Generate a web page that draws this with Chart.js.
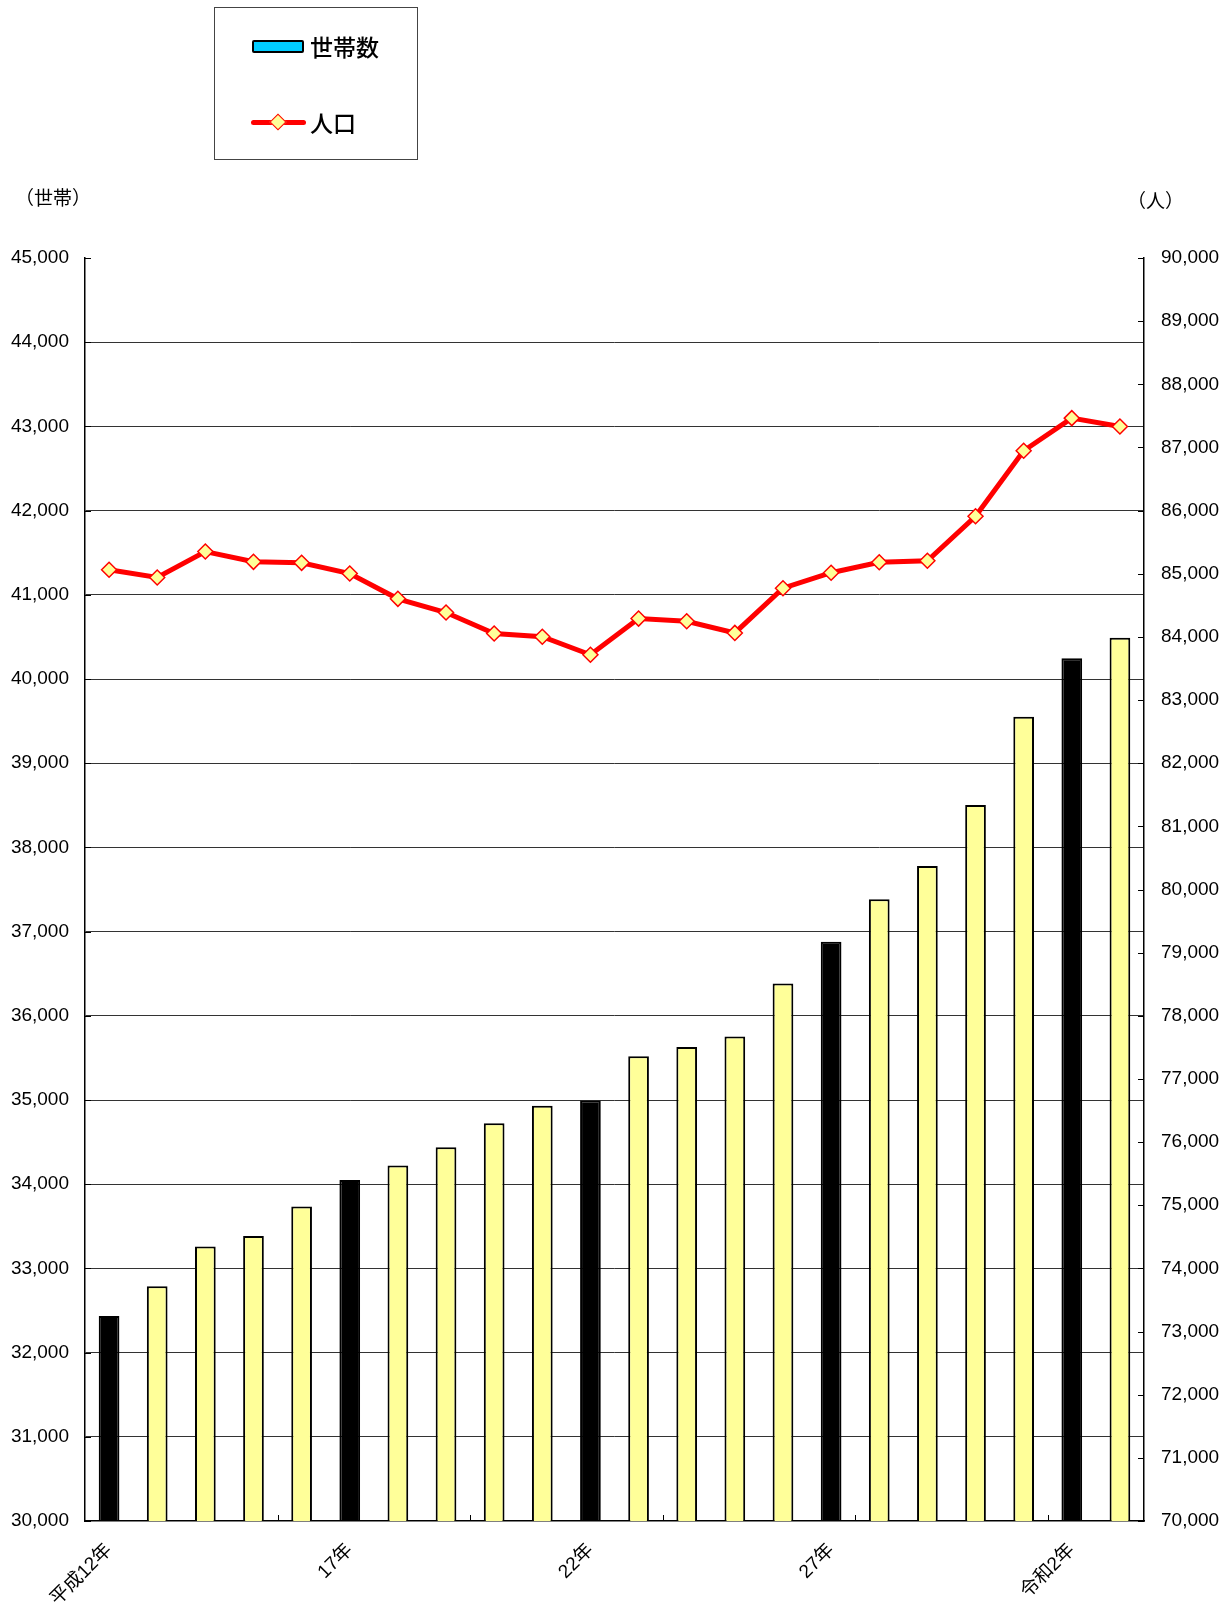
<!DOCTYPE html>
<html lang="ja">
<head>
<meta charset="utf-8">
<title>世帯数と人口の推移</title>
<script src="https://cdn.jsdelivr.net/npm/chart.js@4.4.1/dist/chart.umd.min.js"></script>
<style>
    body { margin: 0; background: #fff; }
    #wrap { position: relative; width: 1231px; height: 1604px; }
    #chart { position: absolute; left: 0; top: 0; }
    .jp { font-family: "Noto Sans CJK JP", "Noto Sans", sans-serif; color: #000; line-height: 1; position: absolute; white-space: nowrap; }
    .unit { font-size: 19px; }
    .legend { position: absolute; left: 214px; top: 7px; width: 204px; height: 153px; border: 1px solid #444; box-sizing: border-box; }
    .legend .txt { font-size: 23px; font-weight: 500; }
    .swatch-bar { position: absolute; left: 37px; top: 32px; width: 52px; height: 13px; background: #00CCFF; border: 2px solid #000; box-sizing: border-box; border-radius: 2px; }
    .swatch-line { position: absolute; left: 36px; top: 112px; width: 55px; height: 5px; background: #FF0000; border-radius: 3px; }
    .swatch-dot { position: absolute; left: 57px; top: 108px; width: 10px; height: 10px; background: #FFFF99; border: 1.5px solid #FF0000; transform: rotate(45deg); }
</style>
</head>
<body>
<div id="wrap">
    <canvas id="chart" width="1231" height="1604"></canvas>
    <div class="legend">
        <div class="swatch-bar"></div>
        <div class="jp txt" style="left:95px; top:27px;">世帯数</div>
        <div class="swatch-line"></div>
        <div class="swatch-dot"></div>
        <div class="jp txt" style="left:95px; top:103px;">人口</div>
    </div>
    <div class="jp unit" style="left:15px; top:187px;">（世帯）</div>
    <div class="jp unit" style="left:1127px; top:190px;">（人）</div>
</div>
<script>
// 年度（平成12年〜令和3年）
const years = [
    '平成12年', '13年', '14年', '15年', '16年', '17年', '18年', '19年', '20年', '21年',
    '22年', '23年', '24年', '25年', '26年', '27年', '28年', '29年', '30年', '令和元年',
    '2年', '3年'
];
// 軸に出すラベル（5年ごと）
const xTickLabels = [
    '平成12年', '', '', '', '', '17年', '', '', '', '',
    '22年', '', '', '', '', '27年', '', '', '', '',
    '令和2年', ''
];
const households = [
    32436, 32789, 33261, 33384, 33734, 34051, 34221, 34439, 34724, 34933,
    34995, 35520, 35630, 35753, 36385, 36878, 37385, 37778, 38503, 39551,
    40246, 40491
];
const population = [
    85063, 84941, 85352, 85189, 85173, 85004, 84603, 84386, 84054, 84002,
    83717, 84290, 84248, 84063, 84771, 85016, 85183, 85205, 85910, 86948,
    87464, 87332
];
// 国勢調査年は黒い棒
const censusIdx = [0, 5, 10, 15, 20];

const FONT = '"Liberation Sans", "Noto Sans CJK JP", sans-serif';
const fmt = v => Number(v).toLocaleString('en-US');

// 軸の内向き目盛り
const innerTicks = {
    id: 'innerTicks',
    beforeDatasetsDraw(chart) {
        const {ctx, chartArea: a, scales} = chart;
        const len = 6;
        ctx.save();
        ctx.strokeStyle = '#000';
        ctx.lineWidth = 1;
        ctx.beginPath();
        scales.y.ticks.forEach(t => {
            const y = Math.round(scales.y.getPixelForValue(t.value)) + 0.5;
            ctx.moveTo(a.left, y);
            ctx.lineTo(a.left + len, y);
        });
        scales.y1.ticks.forEach(t => {
            const y = Math.round(scales.y1.getPixelForValue(t.value)) + 0.5;
            ctx.moveTo(a.right, y);
            ctx.lineTo(a.right - len, y);
        });
        for (let k = 4; k < years.length; k += 4) {
            const x = Math.round((scales.x.getPixelForValue(k - 1) + scales.x.getPixelForValue(k)) / 2) + 0.5;
            ctx.moveTo(x, a.bottom);
            ctx.lineTo(x, a.bottom - len);
        }
        ctx.stroke();
        ctx.restore();
    }
};

new Chart(document.getElementById('chart'), {
    data: {
        labels: years,
        datasets: [
            {
                type: 'line',
                label: '人口',
                data: population,
                yAxisID: 'y1',
                order: 0,
                borderColor: '#FF0000',
                borderWidth: 5,
                tension: 0,
                pointStyle: 'rectRot',
                pointRadius: 7.5,
                pointBackgroundColor: '#FFFF99',
                pointBorderColor: '#FF0000',
                pointBorderWidth: 1.5
            },
            {
                type: 'bar',
                label: '世帯数',
                data: households,
                yAxisID: 'y',
                order: 1,
                backgroundColor: ctx => censusIdx.includes(ctx.dataIndex) ? '#000000' : '#FFFF99',
                borderColor: '#000000',
                borderWidth: 2,
                categoryPercentage: 1,
                barPercentage: 0.43
            }
        ]
    },
    options: {
        responsive: false,
        animation: false,
        layout: {padding: {top: 258, left: 0, right: 0, bottom: 0}},
        plugins: {legend: {display: false}, tooltip: {enabled: false}},
        scales: {
            x: {
                offset: true,
                grid: {display: false},
                border: {color: '#000', width: 1.5},
                ticks: {
                    autoSkip: false,
                    maxRotation: 45,
                    minRotation: 45,
                    padding: 10,
                    color: '#000',
                    font: {family: FONT, size: 19},
                    callback: (v, i) => xTickLabels[i]
                },
                afterFit: s => { s.height = 83; }
            },
            y: {
                position: 'left',
                min: 30000,
                max: 45000,
                grid: {
                    drawTicks: false,
                    color: ctx => (ctx.tick && (ctx.tick.value === 45000 || ctx.tick.value === 30000)) ? 'rgba(0,0,0,0)' : '#333',
                    lineWidth: 1
                },
                border: {color: '#000', width: 1.5},
                ticks: {
                    stepSize: 1000,
                    padding: 16,
                    color: '#000',
                    font: {family: FONT, size: 19},
                    callback: v => fmt(v)
                },
                afterFit: s => { s.width = 85; }
            },
            y1: {
                position: 'right',
                min: 70000,
                max: 90000,
                grid: {drawOnChartArea: false, drawTicks: false},
                border: {color: '#000', width: 1.5},
                ticks: {
                    stepSize: 1000,
                    padding: 17,
                    color: '#000',
                    font: {family: FONT, size: 19},
                    callback: v => fmt(v)
                },
                afterFit: s => { s.width = 87; }
            }
        }
    },
    plugins: [innerTicks]
});
</script>
</body>
</html>
